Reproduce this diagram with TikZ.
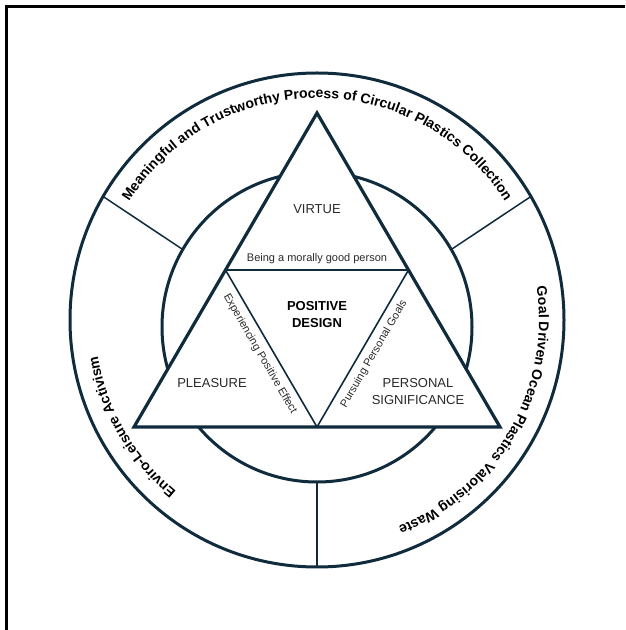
\documentclass[tikz,border=0pt]{standalone}
\usepackage{fontspec}
\setmainfont{Liberation Sans}
\usetikzlibrary{calc,decorations.text}
\definecolor{ink}{HTML}{0F2B3C}
\definecolor{labelgray}{HTML}{2A2A2A}
\newcommand\arcfont{\fontsize{14}{14}\selectfont\bfseries}
\begin{document}
\begin{tikzpicture}[x=1pt,y=1pt,
  ring/.style={draw=ink, line width=3pt},
  tri/.style={draw=ink, line width=3.2pt, line join=miter, fill=white},
  innertri/.style={draw=ink, line width=1.6pt},
  divider/.style={draw=ink, line width=1.5pt},
  caption/.style={text=labelgray, font=\fontsize{13}{17}\selectfont, align=center, inner sep=0pt},
  core/.style={text=black, font=\fontsize{13}{17}\selectfont\bfseries, align=center, inner sep=0pt},
  edgetext/.style={text=labelgray, font=\fontsize{11}{13}\selectfont, inner sep=0pt},
  arctext/.style={decorate, decoration={text along path, text align=center, text={|\arcfont|#1}}}]
\useasboundingbox (0,0) rectangle (625,630);
\fill[white] (0,0) rectangle (625,630);

% page frame
\draw[black, line width=2.5pt] (6.5,0) -- (6.5,623.5) -- (625,623.5);

% rings
\coordinate (O) at (317,310);
\coordinate (I) at (317,303);
\draw[ring] (O) circle[radius=247];
\draw[ring] (I) circle[radius=155];

% ring dividers
\coordinate (d1o) at ($(O)+(150:247)$);
\coordinate (d1i) at ($(I)+(150:155)$);
\coordinate (d2o) at ($(O)+(30:247)$);
\coordinate (d2i) at ($(I)+(30:155)$);
\coordinate (d3o) at ($(O)+(270:247)$);
\coordinate (d3i) at ($(I)+(270:155)$);
\draw[divider] (d1i) -- (d1o);
\draw[divider] (d2i) -- (d2o);
\draw[divider] (d3i) -- (d3o);

% outer ring captions
\path[arctext={Meaningful and Trustworthy Process of Circular Plastics Collection}]
  ($(O)+(150:222)$) arc[start angle=150, end angle=30, radius=222];
\path[arctext={Goal Driven Ocean Plastics Valorising Waste}]
  ($(O)+(30:222)$) arc[start angle=30, end angle=-90, radius=222];
\path[arctext={Enviro-Leisure Activism}]
  ($(O)+(270:222)$) arc[start angle=270, end angle=150, radius=222];

% triangle
\coordinate (A) at (317,517);
\coordinate (B) at (134,203);
\coordinate (C) at (500,203);
\coordinate (AB) at ($(A)!0.5!(B)$);
\coordinate (AC) at ($(A)!0.5!(C)$);
\coordinate (BC) at ($(B)!0.5!(C)$);
\draw[tri] (A) -- (B) -- (C) -- cycle;
\draw[innertri] (AB) -- (AC) -- (BC) -- cycle;

% labels
\node[caption] (virtue) at (317,421) {VIRTUE};
\node[caption] (pleasure) at (212,247) {PLEASURE};
\node[caption] (signif) at (418,238.5) {PERSONAL\\SIGNIFICANCE};
\node[core] (core) at (317,315.5) {POSITIVE\\DESIGN};

\node[edgetext] (moral) at (317,371) {Being a morally good person};
\node[edgetext, rotate=-60] (exper) at (260,276) {Experiencing Positive Effect};
\node[edgetext, rotate=60] (pursue) at (374,276) {Pursuing Personal Goals};
\end{tikzpicture}
\end{document}
